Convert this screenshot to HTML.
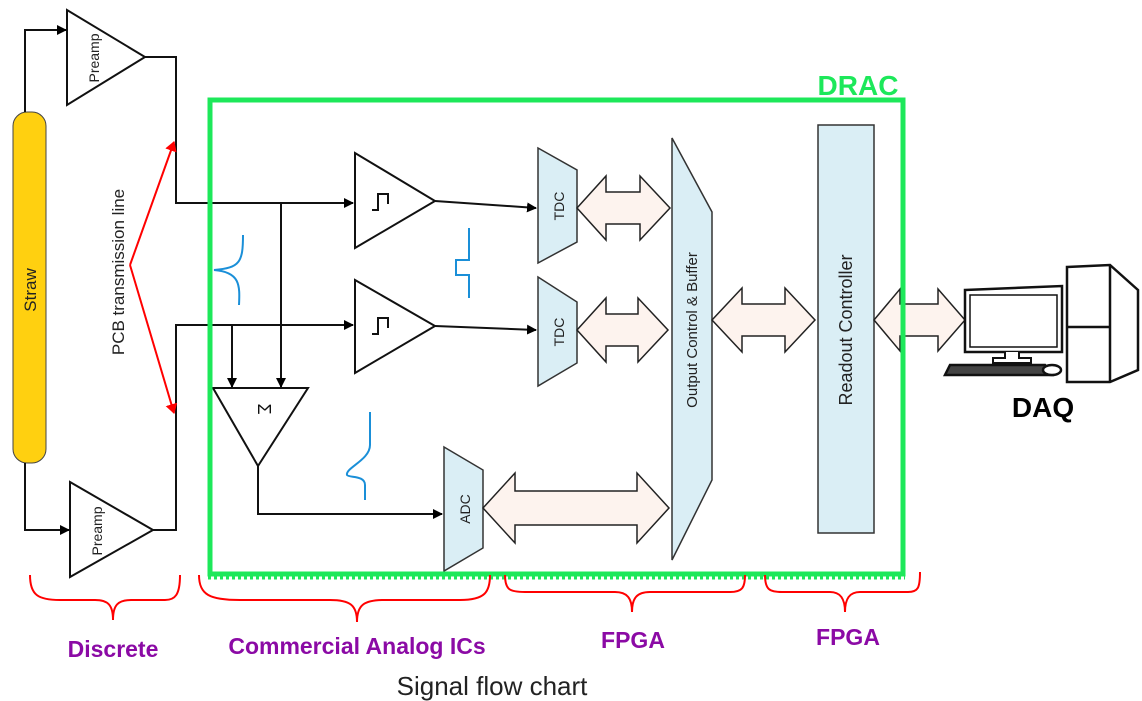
<!DOCTYPE html>
<html><head><meta charset="utf-8"><style>
html,body{margin:0;padding:0;background:#fff;}
svg{display:block;font-family:"Liberation Sans","DejaVu Sans",sans-serif;}
</style></head><body>
<svg width="1142" height="701" viewBox="0 0 1142 701" xmlns="http://www.w3.org/2000/svg">
<defs>
<marker id="ar" markerWidth="10" markerHeight="10" refX="9" refY="5" orient="auto" markerUnits="userSpaceOnUse"><path d="M0,0 L10,5 L0,10 z" fill="#000"/></marker>
<marker id="rr" markerWidth="10" markerHeight="12" refX="9" refY="6" orient="auto" markerUnits="userSpaceOnUse"><path d="M0,0 L10,6 L0,12 z" fill="#f00"/></marker>
</defs>
<rect x="0" y="0" width="1142" height="701" fill="#fff"/>
<rect x="13" y="112" width="33" height="351" rx="14" fill="#ffd010" stroke="#444" stroke-width="1"/>
<text transform="translate(36,290) rotate(-90)" font-size="17" text-anchor="middle" fill="#222">Straw</text>
<g fill="none" stroke="#111" stroke-width="2">
<polygon points="67,10 67,105 145,57" fill="#fff"/>
<polygon points="70,482 70,577 153,530" fill="#fff"/>
<path d="M25,112 V30 H66" marker-end="url(#ar)"/>
<path d="M25,463 V530 H69" marker-end="url(#ar)"/>
<path d="M145,57 H176 V203 H353" marker-end="url(#ar)"/>
<path d="M153,530 H176 V325 H353" marker-end="url(#ar)"/>
<path d="M281,203 V387" marker-end="url(#ar)"/>
<path d="M232,325 V387" marker-end="url(#ar)"/>
<polygon points="355,153 355,248 435,201" fill="#fff"/>
<polygon points="355,280 355,373 435,326" fill="#fff"/>
<path d="M372,210 h6 v-16 h10 v10" />
<path d="M372,334 h6 v-16 h10 v10" />
<path d="M435,201 L536,208" marker-end="url(#ar)"/>
<path d="M435,326 L536,330" marker-end="url(#ar)"/>
<polygon points="213,388 308,388 258,466" fill="#fff"/>
<path d="M258,466 V514 H442" marker-end="url(#ar)"/>
</g>
<text transform="translate(258,409) rotate(90)" font-size="18" text-anchor="middle" fill="#111">Σ</text>
<text transform="translate(99,58) rotate(-90)" font-size="14" text-anchor="middle" fill="#222">Preamp</text>
<text transform="translate(102,531) rotate(-90)" font-size="14" text-anchor="middle" fill="#222">Preamp</text>
<text transform="translate(124,272) rotate(-90)" font-size="17" text-anchor="middle" fill="#222">PCB transmission line</text>
<g stroke="#f00" stroke-width="2" fill="none">
<path d="M130,265 L174,142" marker-end="url(#rr)"/>
<path d="M130,265 L174,413" marker-end="url(#rr)"/>
</g>
<g stroke="#1a8fd8" stroke-width="2" fill="none">
<path d="M243,235 C243,262 240,268 214,270 C240,272 240,285 239,305"/>
<path d="M469,228 V260 H456 V275 H469 V298"/>
<path d="M370,412 V445 C370,460 345,468 347,475 C349,478 365,475 365,485 V500"/>
</g>
<g stroke="#333" stroke-width="1.5" fill="#daeef5">
<polygon points="538,148 577,170 577,242 538,263"/>
<polygon points="538,277 577,302 577,363 538,386"/>
<polygon points="444,447 483,470 483,548 444,571"/>
<polygon points="672,138 712,212 712,480 672,560"/>
<rect x="818" y="125" width="56" height="408"/>
</g>
<text transform="translate(564,206) rotate(-90)" font-size="14" text-anchor="middle" fill="#222">TDC</text>
<text transform="translate(564,332) rotate(-90)" font-size="14" text-anchor="middle" fill="#222">TDC</text>
<text transform="translate(470,509) rotate(-90)" font-size="14" text-anchor="middle" fill="#222">ADC</text>
<text transform="translate(697,330) rotate(-90)" font-size="15" text-anchor="middle" fill="#222">Output Control &amp; Buffer</text>
<text transform="translate(852,330) rotate(-90)" font-size="18" text-anchor="middle" fill="#222">Readout Controller</text>
<g stroke="#222" stroke-width="1.5" fill="#fdf3ee">
<polygon points="577,208 606,176 606,192 640,192 640,176 670,208 640,240 640,224 606,224 606,240"/>
<polygon points="577,330 606,298 606,314 638,314 638,298 668,330 638,362 638,346 606,346 606,362"/>
<polygon points="712,320 742,288 742,304 785,304 785,288 815,320 785,352 785,336 742,336 742,352"/>
<polygon points="483,508 515,473 515,491 637,491 637,473 669,508 637,543 637,525 515,525 515,543"/>
<polygon points="874,320 900,289 900,304 938,304 938,289 965,320 938,351 938,336 900,336 900,351"/>
</g>
<rect x="210" y="100" width="693" height="474" fill="none" stroke="#1de85a" stroke-width="5"/>
<line x1="208" y1="578" x2="905" y2="578" stroke="#1de85a" stroke-width="3" stroke-dasharray="3,3"/>
<text x="858" y="95" font-size="28" font-weight="bold" fill="#1de85a" text-anchor="middle">DRAC</text>
<g stroke="#111" stroke-width="2.5" fill="#fff">
<polygon points="1067,267 1110,265 1138,290 1138,370 1110,382 1067,382"/>
<line x1="1110" y1="265" x2="1110" y2="382"/>
<line x1="1067" y1="327" x2="1110" y2="327"/>
<polygon points="965,290 1062,286 1062,352 965,352"/>
<rect x="970" y="295" width="87" height="52" stroke-width="1.5"/>
<path d="M1005,352 v6 h-12 v5 h38 v-5 h-12 v-6" stroke-width="2"/>
<polygon points="950,365 1045,365 1052,375 945,375" fill="#444"/>
<ellipse cx="1052" cy="370" rx="9" ry="5"/>
</g>
<text x="1043" y="417" font-size="28" font-weight="bold" fill="#000" text-anchor="middle">DAQ</text>
<g stroke="#f00" stroke-width="2" fill="none">
<path d="M30,575 C30,595 38,600 60,600 H95 C108,600 113,605 113,620 C113,605 118,600 131,600 H165 C175,600 180,595 180,575"/>
<path d="M199,575 C199,595 210,600 240,600 H330 C350,600 357,605 357,622 C357,605 364,600 384,600 H460 C485,600 490,592 490,575"/>
<path d="M505,575 C505,590 510,592 525,592 H615 C627,592 632,598 632,612 C632,598 637,592 650,592 H730 C742,592 745,588 745,575"/>
<path d="M765,575 C765,590 770,592 782,592 H830 C840,592 845,598 845,612 C845,598 850,592 860,592 H908 C918,592 920,588 920,572"/>
</g>
<g font-size="23" font-weight="bold" fill="#8b0aa5" text-anchor="middle">
<text x="113" y="657">Discrete</text>
<text x="357" y="654">Commercial Analog ICs</text>
<text x="633" y="648">FPGA</text>
<text x="848" y="645">FPGA</text>
</g>
<text x="492" y="695" font-size="26" fill="#222" text-anchor="middle">Signal flow chart</text>
</svg>
</body></html>
